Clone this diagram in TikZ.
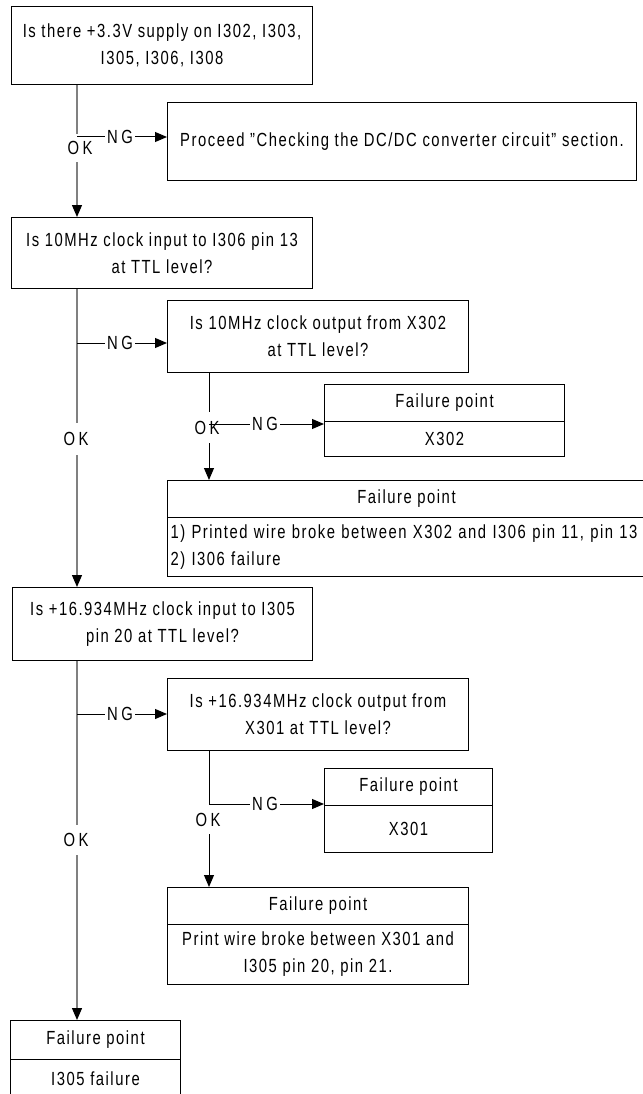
\documentclass[tikz,border=0pt]{standalone}
\usepackage{fontspec}
\setmainfont{Liberation Sans}[FakeStretch=0.78,LetterSpace=8]
\usetikzlibrary{arrows.meta}
\definecolor{trunkc}{RGB}{128,128,128}
\newcommand{\myfs}{\fontsize{19pt}{27pt}\selectfont}
\newcommand{\lblfs}{\fontsize{19pt}{27pt}\selectfont\addfontfeature{LetterSpace=18}}
\tikzset{
  box/.style={draw=black, line width=1pt, anchor=north west, inner sep=0pt, align=center, font=\myfs},
  ngl/.style={inner xsep=2pt, inner ysep=0pt, font=\lblfs},
  okl/.style={inner sep=0pt, font=\lblfs},
  trunk/.style={draw=trunkc, line width=1.3pt},
  sub/.style={draw=black, line width=1pt},
  arr/.style={-{Triangle[length=12pt,width=10pt,color=black]}}
}
\begin{document}
\begin{tikzpicture}[x=1pt,y=-1pt]
\fill[white] (0,0) rectangle (642,1094);
\useasboundingbox (0,0) rectangle (642,1094);
% boxes
\node[box, minimum width=301pt, minimum height=78pt] (q1) at (11,6) {Is there +3.3V supply on I302, I303,\\I305, I306, I308};
\node[box, minimum width=469pt, minimum height=78pt] (p1) at (167,102) {Proceed "Checking the DC/DC converter circuit" section.};
\node[box, minimum width=301pt, minimum height=71pt] (q2) at (11,217) {Is 10MHz clock input to I306 pin 13\\at TTL level?};
\node[box, minimum width=301pt, minimum height=72pt] (q3) at (167,300) {Is 10MHz clock output from X302\\at TTL level?};
\node[box, minimum width=240pt, minimum height=37pt] (f1a) at (324,384) {Failure point};
\node[box, minimum width=240pt, minimum height=35pt] (f1b) at (324,421) {X302};
\node[box, minimum width=478pt, minimum height=37pt] (f2a) at (167,480) {Failure point};
\node[box, minimum width=478pt, minimum height=59pt, align=left, text width=472pt] (f2b) at (167,517) {1) Printed wire broke between X302 and I306 pin 11, pin 13\\2) I306 failure};
\node[box, minimum width=300pt, minimum height=73pt] (q4) at (12,587) {Is +16.934MHz clock input to I305\\pin 20 at TTL level?};
\node[box, minimum width=301pt, minimum height=72pt] (q5) at (167,678) {Is +16.934MHz clock output from\\X301 at TTL level?};
\node[box, minimum width=168pt, minimum height=37pt] (f3a) at (324,768) {Failure point};
\node[box, minimum width=168pt, minimum height=47pt] (f3b) at (324,805) {X301};
\node[box, minimum width=301pt, minimum height=37pt] (f4a) at (167,887) {Failure point};
\node[box, minimum width=301pt, minimum height=60pt] (f4b) at (167,924) {Print wire broke between X301 and\\I305 pin 20, pin 21.};
\node[box, minimum width=170pt, minimum height=39pt] (f5a) at (10,1020) {Failure point};
\node[box, minimum width=170pt, minimum height=38pt] (f5b) at (10,1059) {I305 failure};
% reference verticals
\coordinate (T) at (77,0);
\coordinate (S) at (209,0);
% labels
\node[okl, minimum height=28pt] (ok1) at (80,148) {OK};
\node[okl, minimum height=32pt] (ok2) at (76,439) {OK};
\node[okl, minimum height=30pt] (ok3) at (76,840) {OK};
\node[okl, minimum height=31pt] (ok4) at (207,427.5) {OK};
\node[okl, minimum height=28pt] (ok5) at (208,820) {OK};
\coordinate (j1) at (77,137);
\coordinate (j2) at (77,343);
\coordinate (j3) at (77,714);
\coordinate (j4) at (209,424);
\coordinate (j5) at (209,804);
\node[ngl] (ng1) at (120,137) {NG};
\node[ngl] (ng2) at (120,343) {NG};
\node[ngl] (ng3) at (120,714) {NG};
\node[ngl] (ng4) at (265,424) {NG};
\node[ngl] (ng5) at (265,804) {NG};
% trunk
\draw[trunk] (q1.south -| T) -- (ok1.north -| T);
\draw[trunk, arr] (ok1.south -| T) -- (q2.north -| T);
\draw[trunk] (q2.south -| T) -- (ok2.north -| T);
\draw[trunk, arr] (ok2.south -| T) -- (q4.north -| T);
\draw[trunk] (q4.south -| T) -- (ok3.north -| T);
\draw[trunk, arr] (ok3.south -| T) -- (f5a.north -| T);
% NG branches from trunk
\draw[sub] (j1) -- (ng1.west);
\draw[sub, arr] (ng1.east) -- (p1.west |- j1);
\draw[sub] (j2) -- (ng2.west);
\draw[sub, arr] (ng2.east) -- (q3.west |- j2);
\draw[sub] (j3) -- (ng3.west);
\draw[sub, arr] (ng3.east) -- (q5.west |- j3);
% sub branch 1
\draw[sub] (q3.south -| S) -- (ok4.north -| S);
\draw[sub, arr] (ok4.south -| S) -- (f2a.north -| S);
\draw[sub] (j4) -- (ng4.west);
\draw[sub, arr] (ng4.east) -- (f1b.west |- j4);
% sub branch 2
\draw[sub] (q5.south -| S) -- (j5) -- (ng5.west);
\draw[sub, arr] (ng5.east) -- (f3b.west |- j5);
\draw[sub, arr] (ok5.south -| S) -- (f4a.north -| S);
\end{tikzpicture}
\end{document}
